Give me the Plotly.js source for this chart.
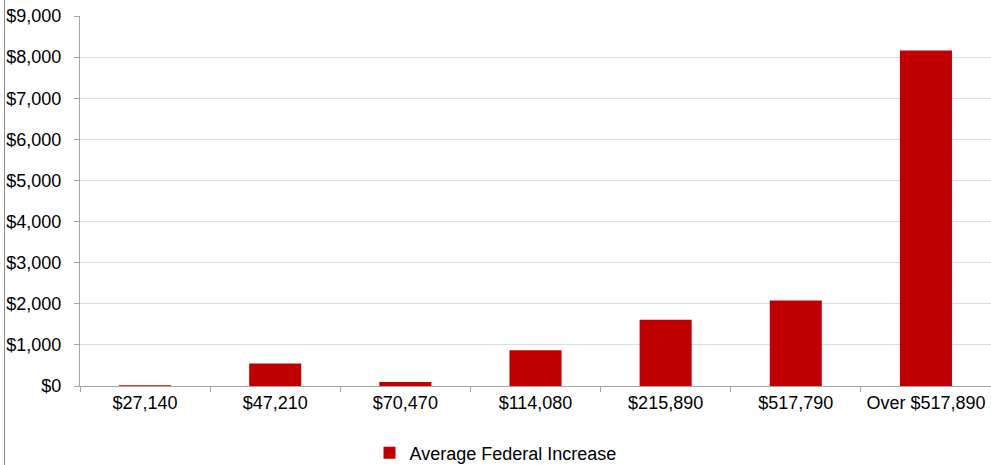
<!DOCTYPE html>
<html>
<head>
<meta charset="utf-8">
<script src="https://cdn.plot.ly/plotly-3.0.1.min.js"></script>
<style>
html,body{margin:0;padding:0;background:#fff;overflow:hidden;}
#chart{width:991px;height:465px;}
</style>
</head>
<body>
<div id="chart"></div>
<script>
const categories = ["$27,140", "$47,210", "$70,470", "$114,080", "$215,890", "$517,790", "Over $517,890"];
const averageFederalIncrease = [20, 550, 100, 870, 1610, 2080, 8160];
const seriesName = "Average Federal Increase";

const W = 991, H = 465;
const ml = 80, mr = 0, mt = 16, mb = 79;
const plotW = W - ml - mr;

const trace = {
  type: "bar",
  x: categories,
  y: averageFederalIncrease,
  name: seriesName,
  marker: {color: "#C00000", line: {width: 0}},
  hoverinfo: "x+y"
};

const layout = {
  width: W, height: H,
  margin: {l: ml, r: mr, t: mt, b: mb, pad: 0, autoexpand: false},
  paper_bgcolor: "#fff",
  plot_bgcolor: "#fff",
  font: {family: "Liberation Sans, Arial, sans-serif", size: 18, color: "#000"},
  bargap: 0.6,
  showlegend: true,
  legend: {orientation: "h", xref: "paper", x: 0.5 - 40 / plotW, xanchor: "center",
           yref: "container", y: 1 - 453 / H, yanchor: "middle",
           font: {size: 18, color: "#000"}, itemwidth: 30, tracegroupgap: 0},
  xaxis: {
    type: "category",
    showgrid: false,
    showline: true, linecolor: "#a6a6a6", linewidth: 1,
    ticks: "outside", ticklen: 5, tickcolor: "#a6a6a6", tickson: "boundaries",
    tickfont: {size: 18, color: "#000"},
    ticklabelstandoff: 0,
    automargin: false,
    fixedrange: true
  },
  yaxis: {
    range: [0, 9000], dtick: 1000, tick0: 0,
    tickprefix: "$", tickformat: ",d", separatethousands: true,
    showgrid: true, gridcolor: "#dedede", gridwidth: 1,
    zeroline: false,
    showline: true, linecolor: "#a6a6a6", linewidth: 1,
    ticks: "outside", ticklen: 5, tickcolor: "#a6a6a6",
    tickfont: {size: 18, color: "#000"},
    ticklabelstandoff: 9,
    automargin: false,
    fixedrange: true
  },
  shapes: [{
    type: "line", xref: "paper", yref: "paper",
    x0: (4.5 - ml) / plotW, x1: (4.5 - ml) / plotW,
    y0: -mb / (H - mt - mb), y1: 1 + mt / (H - mt - mb),
    line: {color: "#8c8c8c", width: 1}
  }]
};

Plotly.newPlot("chart", [trace], layout, {displayModeBar: false, staticPlot: true});
</script>
</body>
</html>
